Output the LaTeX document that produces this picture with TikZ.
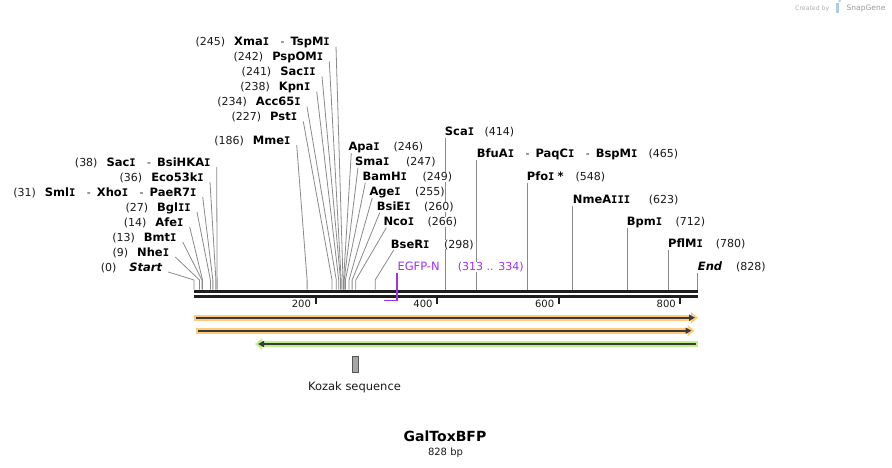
\documentclass[tikz,border=0pt]{standalone}
\usepackage{fontspec}
\setmainfont{DejaVu Sans}[ItalicFont={DejaVu Sans Oblique},BoldFont={DejaVu Sans Bold},BoldItalicFont={DejaVu Sans Bold Oblique}]
\newfontfamily\monof{DejaVu Sans Mono}[BoldFont={DejaVu Sans Mono Bold}]
\usetikzlibrary{arrows.meta,calc}
\definecolor{cutgray}{HTML}{8A8A8A}
\definecolor{numcol}{HTML}{1A1A1A}
\definecolor{primer}{HTML}{A030F0}
\definecolor{forange}{HTML}{FFCB7A}
\definecolor{fgreen}{HTML}{BDF08A}
\definecolor{fdark}{HTML}{3A3A3A}
\definecolor{kgray}{HTML}{A6A6A6}
\definecolor{kdark}{HTML}{555555}
\definecolor{wmark}{HTML}{B0B0B0}
\definecolor{wmarkb}{HTML}{9A9A9A}
\definecolor{wicon}{HTML}{A9CDEB}
\definecolor{dnacol}{HTML}{1E1E1E}
\newcommand{\nm}[1]{{\fontsize{11.5}{13}\selectfont\bfseries #1}}
\newcommand{\nb}[1]{{\fontsize{11}{12}\selectfont\color{numcol}#1}}
\newcommand{\sI}{{\monof\fontsize{10.5}{12}\selectfont I}}
\newcommand{\dsh}{\hspace{11.5pt}\nb{-}\hspace{6pt}}
\pgfdeclarelayer{back}
\pgfdeclarelayer{bg}
\pgfsetlayers{back,bg,main}
\begin{document}
\begin{tikzpicture}[x=1pt,y=-1pt,
  cut/.style={draw=cutgray,line width=0.8pt},
  labL/.style={inner sep=0pt,anchor=base east,fill=white},
  labR/.style={inner sep=0pt,anchor=base west,fill=white},
  plain/.style={inner sep=0pt,anchor=base}]
\useasboundingbox (0,0) rectangle (892,467);
\begin{pgfonlayer}{back}
\fill[white] (0,0) rectangle (892,467);
\end{pgfonlayer}

% cut-site coordinates
\foreach \p in {0,9,13,14,27,31,36,38,186,227,234,238,241,242,245,246,247,249,255,260,266,298,414,465,548,623,712,780,828}{
  \coordinate (k\p) at ({194+\p*0.60809},280);
  \coordinate (b\p) at ({194+\p*0.60809},289.5);
}

% left labels
\node[labL] (l38) at (210.7,166) {\nb{(38)}\hspace{9pt}\nm{Sac\sI}\dsh\nm{BsiHKA\sI}};
\node[labL] (l36) at (204,181) {\nb{(36)}\hspace{9pt}\nm{Eco53k\sI}};
\node[labL] (l31) at (196.7,196) {\nb{(31)}\hspace{9pt}\nm{Sml\sI}\dsh\nm{Xho\sI}\dsh\nm{PaeR7\sI}};
\node[labL] (l27) at (191,211) {\nb{(27)}\hspace{9pt}\nm{Bgl\sI\sI}};
\node[labL] (l14) at (183.7,226) {\nb{(14)}\hspace{9pt}\nm{Afe\sI}};
\node[labL] (l13) at (176.7,241) {\nb{(13)}\hspace{9pt}\nm{Bmt\sI}};
\node[labL] (l9) at (169.3,256) {\nb{(9)}\hspace{9pt}\nm{Nhe\sI}};
\node[labL] (l0) at (162.3,271) {\nb{(0)}\hspace{13pt}\nm{\itshape Start}};

% top labels
\node[labL] (l245) at (330,45.5) {\nb{(245)}\hspace{9pt}\nm{Xma\sI}\dsh\nm{TspM\sI}};
\node[labL] (l242) at (323.3,60.5) {\nb{(242)}\hspace{9pt}\nm{PspOM\sI}};
\node[labL] (l241) at (316,75.5) {\nb{(241)}\hspace{9pt}\nm{Sac\sI\sI}};
\node[labL] (l238) at (310.7,90.5) {\nb{(238)}\hspace{9pt}\nm{Kpn\sI}};
\node[labL] (l234) at (301,105.5) {\nb{(234)}\hspace{9pt}\nm{Acc65\sI}};
\node[labL] (l227) at (297.3,120.5) {\nb{(227)}\hspace{9pt}\nm{Pst\sI}};
\node[labL] (l186) at (290.7,144) {\nb{(186)}\hspace{9pt}\nm{Mme\sI}};

% right slanted labels
\node[labR] (r246) at (348.3,150.7) {\nm{Apa\sI}};  \node[labR] (n246) at (393.3,150.7) {\nb{(246)}};
\node[labR] (r247) at (355,165.7) {\nm{Sma\sI}};   \node[labR] (n247) at (406,165.7) {\nb{(247)}};
\node[labR] (r249) at (362.3,180.7) {\nm{BamH\sI}}; \node[labR] (n249) at (422.3,180.7) {\nb{(249)}};
\node[labR] (r255) at (369.3,195.7) {\nm{Age\sI}};  \node[labR] (n255) at (415,195.7) {\nb{(255)}};
\node[labR] (r260) at (376.7,210.7) {\nm{BsiE\sI}}; \node[labR] (n260) at (424,210.7) {\nb{(260)}};
\node[labR] (r266) at (383.3,225.7) {\nm{Nco\sI}};  \node[labR] (n266) at (427.3,225.7) {\nb{(266)}};
\node[labR] (r298) at (390.7,248) {\nm{BseR\sI}};   \node[labR] (n298) at (444,248) {\nb{(298)}};

% right vertical labels
\node[labR] (r414) at (444.7,135.7) {\nm{Sca\sI}};   \node[labR] (n414) at (484.3,135.7) {\nb{(414)}};
\node[labR] (r465) at (476.7,157.3) {\nm{BfuA\sI}\dsh\nm{PaqC\sI}\dsh\nm{BspM\sI}}; \node[labR] (n465) at (648.3,157.3) {\nb{(465)}};
\node[labR] (r548) at (526.7,180.7) {\nm{Pfo\sI\hspace{3pt}*}}; \node[labR] (n548) at (575.3,180.7) {\nb{(548)}};
\node[labR] (r623) at (572.7,203) {\nm{NmeA\sI\sI\sI}}; \node[labR] (n623) at (648.7,203) {\nb{(623)}};
\node[labR] (r712) at (626.7,225.7) {\nm{Bpm\sI}};  \node[labR] (n712) at (675.3,225.7) {\nb{(712)}};
\node[labR] (r780) at (668,247.3) {\nm{PflM\sI}};   \node[labR] (n780) at (715.7,247.3) {\nb{(780)}};
\node[labR] (r828) at (697.7,270.7) {\nm{\itshape End}}; \node[labR] (n828) at (736,270.7) {\nb{(828)}};

% primer labels
\node[labR,text=primer,font=\fontsize{11.5}{13}\selectfont] (egfp) at (397.3,270.7) {EGFP-N};
\node[labR,text=primer,font=\fontsize{11}{13}\selectfont,inner xsep=1pt] (egfpn) at (456.7,270.7) {(313 .. 334)};

% connectors (behind labels)
\begin{pgfonlayer}{bg}
\foreach \p in {0,9,13,14,27,31,36,38,186,227,234,238,241,242,245}{
  \draw[cut] ([xshift=6pt,yshift=-1pt]l\p.base east) -- (k\p) -- (b\p);
}
\foreach \p in {246,247,249,255,260,266,298}{
  \draw[cut] ([xshift=3pt,yshift=-2pt]r\p.base west) -- (k\p) -- (b\p);
}
\foreach \p in {414,465,548,623,712,780,828}{
  \draw[cut] ($(b\p |- r\p.base)+(0,2.5)$) -- (b\p);
}
\end{pgfonlayer}

% DNA
\draw[line width=3pt,dnacol] (194,291) -- (697.5,291);
\draw[line width=3pt,dnacol] (194,296) -- (697.5,296);
\foreach \t in {200,400,600,800}{
  \draw[line width=2pt,dnacol] ({194+\t*0.60809},297.5) -- ++(0,6.5);
  \node[inner sep=0pt,anchor=base east,font=\fontsize{10}{12}\selectfont,text=numcol] (t\t) at ({194+\t*0.60809-4.5},307.5) {\t};
}

% primer hook
\coordinate (p313) at ({194+313*0.60809},300.5);
\coordinate (p334) at ({194+334*0.60809},300.5);
\draw[primer,line width=1.5pt] ($(p334 |- egfp.base)+(0,2.5)$) -- (p334) -- (p313);

% features
\draw[line width=6pt,forange,-{Triangle[length=7pt,width=11pt]}] (193.5,317.7) -- (698,317.7);
\draw[line width=2pt,fdark,-{Triangle[length=6pt,width=6pt]}] (196,317.7) -- (695,317.7);
\draw[line width=6pt,forange,-{Triangle[length=7pt,width=11pt]}] (195.5,330.7) -- (694.5,330.7);
\draw[line width=2pt,fdark,-{Triangle[length=6pt,width=6pt]}] (198,330.7) -- (691.5,330.7);
\draw[line width=6pt,fgreen,-{Triangle[length=7pt,width=11pt]}] (697.5,344) -- (255,344);
\draw[line width=2pt,fdark,-{Triangle[length=6pt,width=6pt]}] (695.5,344) -- (258,344);

% Kozak
\node[draw=kdark,fill=kgray,line width=0.8pt,minimum width=6.3pt,minimum height=15.6pt,inner sep=0pt] (koz) at (355.6,364.5) {};
\node[plain,font=\fontsize{11.5}{13}\selectfont,text=numcol] (kozl) at (354.5,390) {Kozak sequence};

% title
\node[plain,font=\fontsize{14}{16}\selectfont\bfseries] (title) at (445,441) {GalToxBFP};
\node[plain,font=\fontsize{10}{12}\selectfont,text=numcol] (size) at (445.5,455) {828 bp};

% watermark
\node[inner sep=0pt,anchor=base west,font=\fontsize{6.2}{7}\selectfont,text=wmark] (wm1) at (795,10) {Created by};
\fill[wicon] (836,2.5) rectangle (838.5,12.5);
\fill[wicon] (838.5,2.5) arc[start angle=90,end angle=-90,radius=2.75];
\node[inner sep=0pt,anchor=base west,font=\fontsize{7.5}{8}\selectfont,text=wmarkb] (wm2) at (846.5,10.5) {SnapGene};
\end{tikzpicture}
\end{document}
